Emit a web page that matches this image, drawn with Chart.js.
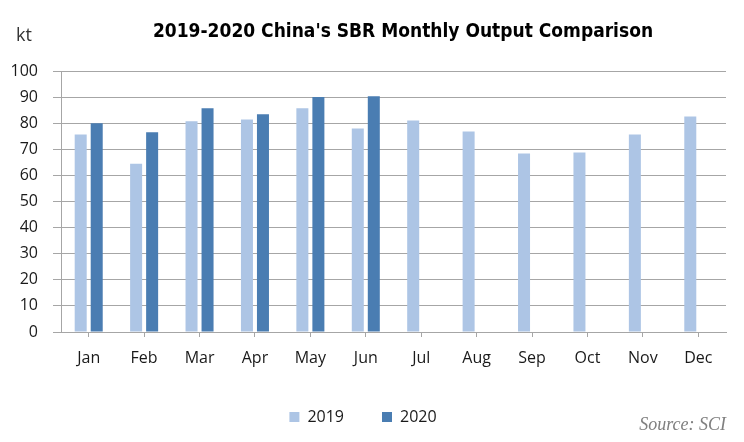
<!DOCTYPE html>
<html>
<head>
<meta charset="utf-8">
<script src="https://cdn.jsdelivr.net/npm/chart.js@4.4.0/dist/chart.umd.min.js"></script>
<style>
  html, body { margin: 0; padding: 0; background: #fff; }
  #wrap { width: 744px; height: 442px; }
</style>
</head>
<body>
<div id="wrap"><canvas id="sbrChart" width="744" height="442"></canvas></div>
<script>
const months = ['Jan', 'Feb', 'Mar', 'Apr', 'May', 'Jun', 'Jul', 'Aug', 'Sep', 'Oct', 'Nov', 'Dec'];
const output2019 = [75.7, 64.5, 80.7, 81.4, 85.7, 78.0, 81.0, 76.8, 68.4, 68.8, 75.7, 82.6];
const output2020 = [80.0, 76.5, 85.7, 83.4, 90.0, 90.3];
const yTicks = [0, 10, 20, 30, 40, 50, 60, 70, 80, 90, 100];

const gridColor = '#a6a6a6';
const textColor = '#1a1a1a';
const baseFont = '"Open Sans", "DejaVu Sans", sans-serif';

// title, unit and source are drawn by hand so they sit where the original puts them
const extraText = {
    id: 'extraText',
    afterDraw(chart) {
        const ctx = chart.ctx;
        ctx.save();
        ctx.fillStyle = '#000';
        ctx.textAlign = 'center';
        ctx.textBaseline = 'alphabetic';
        ctx.font = 'bold 19px "DejaVu Sans Condensed", sans-serif';
        ctx.fillText("2019-2020 China's SBR Monthly Output Comparison", 403, 37);

        ctx.fillStyle = '#333';
        ctx.textAlign = 'left';
        ctx.font = '18px ' + baseFont;
        ctx.fillText('kt', 16, 41);

        ctx.fillStyle = '#808080';
        ctx.textAlign = 'right';
        ctx.font = 'italic 18px "Liberation Serif", "DejaVu Serif", serif';
        ctx.fillText('Source: SCI', 726, 430);
        ctx.restore();
    }
};

const ctx = document.getElementById('sbrChart').getContext('2d');
const sbrChart = new Chart(ctx, {
    type: 'bar',
    data: {
        labels: months,
        datasets: [{
            label: '2019',
            data: output2019,
            backgroundColor: '#adc5e5'
        }, {
            label: '2020',
            data: output2020,
            backgroundColor: '#4a7db2'
        }]
    },
    options: {
        responsive: false,
        animation: false,
        devicePixelRatio: 1,
        categoryPercentage: 0.578,
        barPercentage: 0.75,
        layout: {
            padding: { left: 0, right: 18, top: 71, bottom: 7 }
        },
        plugins: {
            title: { display: false },
            tooltip: { enabled: false },
            legend: {
                position: 'bottom',
                labels: {
                    boxWidth: 10,
                    boxHeight: 10,
                    padding: 38,
                    color: textColor,
                    font: { family: baseFont, size: 16 }
                }
            }
        },
        scales: {
            x: {
                grid: {
                    drawOnChartArea: false,
                    color: gridColor,
                    tickLength: 5,
                    offset: false
                },
                border: { display: true, color: gridColor },
                ticks: {
                    color: textColor,
                    padding: 12,
                    font: { family: baseFont, size: 16 }
                },
                afterFit(scale) { scale.height = 39; }
            },
            y: {
                min: 0,
                max: 100,
                grid: {
                    color: gridColor,
                    tickLength: 8
                },
                border: { display: true, color: gridColor },
                ticks: {
                    color: textColor,
                    padding: 15,
                    stepSize: 10,
                    font: { family: baseFont, size: 16 },
                    callback: (v) => yTicks.includes(v) ? v : ''
                },
                afterFit(scale) { scale.width = 61; }
            }
        }
    },
    plugins: [extraText]
});
</script>
</body>
</html>
